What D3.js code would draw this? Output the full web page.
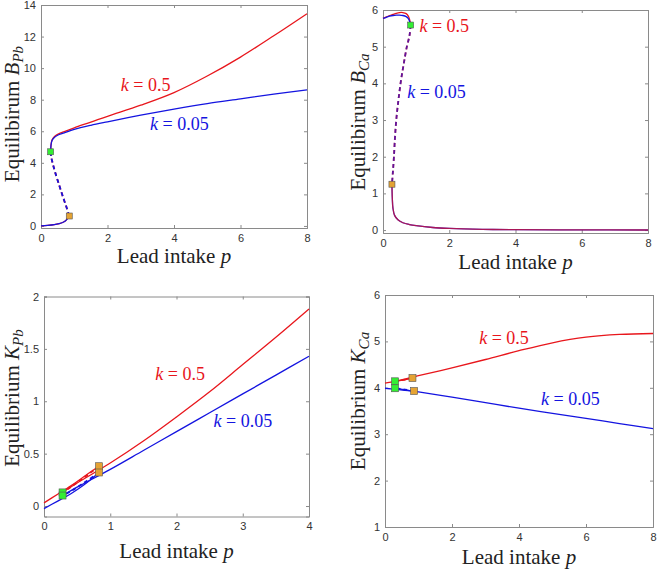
<!DOCTYPE html>
<html>
<head>
<meta charset="utf-8">
<script src="https://cdn.jsdelivr.net/npm/d3@7"></script>
<style>
  html, body { margin: 0; padding: 0; background: #fff; }
  svg { display: block; }
  .tick text { font-family: "Liberation Sans", Arial, sans-serif; font-size: 11px; fill: #333; }
  .lbl { font-family: "Liberation Serif", "Times New Roman", serif; fill: #222; }
</style>
</head>
<body>
<svg id="chart" width="658" height="570"></svg>
<script>
// ---------------- DATA ----------------
// Panel A: Equilibrium B_Pb vs lead intake p (x 0..8)
const bpbLower = [[0,0],[0.2,0.03],[0.4,0.08],[0.55,0.15],[0.65,0.22],[0.73,0.32],[0.79,0.45],[0.85,0.63]];
const bpbMid   = [[0.85,0.63],[0.78,1.1],[0.7,1.6],[0.62,2.1],[0.53,2.7],[0.44,3.3],[0.36,3.9],[0.31,4.35],[0.29,4.7]];
const bpbUpperBlue = [[0.29,4.7],[0.3,5.1],[0.33,5.4],[0.4,5.6],[0.5,5.75],[0.7,5.9],[1,6.12],[1.5,6.38],[2,6.6],[3,7.02],[4,7.4],[5,7.75],[6,8.05],[7,8.35],[8,8.62]];
const bpbUpperRed  = [[0.29,4.7],[0.3,5.1],[0.33,5.45],[0.4,5.66],[0.5,5.8],[0.7,5.98],[1,6.22],[1.5,6.58],[2,6.95],[3,7.65],[4,8.45],[5,9.5],[6,10.7],[7,12.05],[8,13.45]];
const bpbGreen  = [[0.29,4.7]];
const bpbOrange = [[0.85,0.63]];

// Panel B: Equilibrium B_Ca vs p (x 0..8)
const bcaUpperBlue = [[0,5.77],[0.1,5.8],[0.2,5.83],[0.3,5.85],[0.4,5.86],[0.5,5.86],[0.6,5.85],[0.7,5.82],[0.76,5.77],[0.8,5.7],[0.835,5.59]];
const bcaUpperRed  = [[0,5.77],[0.1,5.81],[0.2,5.85],[0.3,5.88],[0.4,5.91],[0.5,5.93],[0.6,5.93],[0.7,5.9],[0.76,5.84],[0.8,5.75],[0.835,5.59]];
const bcaMid   = [[0.835,5.59],[0.8,5.3],[0.72,5.0],[0.62,4.5],[0.53,4.0],[0.46,3.5],[0.40,3.0],[0.36,2.5],[0.33,2.0],[0.30,1.6],[0.27,1.25]];
const bcaLower = [[0.27,1.25],[0.28,0.9],[0.3,0.6],[0.35,0.4],[0.45,0.28],[0.6,0.2],[0.8,0.15],[1,0.12],[1.5,0.07],[2,0.045],[3,0.02],[4,0.012],[6,0.005],[8,0.002]];
const bcaGreen  = [[0.835,5.59]];
const bcaOrange = [[0.27,1.25]];

// Panel C: Equilibrium K_Pb vs p (x 0..4)
const kpbRedLower  = [[0,0.03],[0.2,0.11],[0.4,0.19],[0.6,0.28],[0.83,0.38]];
const kpbRedMid    = [[0.83,0.38],[0.6,0.27],[0.4,0.18],[0.28,0.13]];
const kpbRedUpper  = [[0.28,0.13],[0.5,0.22],[1,0.41],[1.5,0.62],[2,0.85],[2.5,1.09],[3,1.35],[3.5,1.61],[4,1.88]];
const kpbBlueLower = [[0,-0.025],[0.2,0.045],[0.4,0.115],[0.6,0.2],[0.83,0.32]];
const kpbBlueMid   = [[0.83,0.32],[0.6,0.22],[0.4,0.14],[0.28,0.10]];
const kpbBlueUpper = [[0.28,0.10],[0.5,0.18],[1,0.35],[1.5,0.53],[2,0.71],[2.5,0.89],[3,1.07],[3.5,1.25],[4,1.43]];
const kpbGreen  = [[0.28,0.13],[0.28,0.10]];
const kpbOrange = [[0.83,0.38],[0.83,0.32]];

// Panel D: Equilibrium K_Ca vs p (x 0..8)
const kcaRedLower  = [[0,4.1],[0.4,4.15],[0.82,4.21]];
const kcaRedMid    = [[0.82,4.21],[0.55,4.17],[0.3,4.14]];
const kcaRedUpper  = [[0.3,4.14],[1,4.26],[2,4.43],[3,4.61],[4,4.8],[5,4.97],[6,5.09],[7,5.15],[8,5.17]];
const kcaBlueLower = [[0,3.99],[0.4,3.96],[0.87,3.93]];
const kcaBlueMid   = [[0.87,3.93],[0.6,3.96],[0.3,3.99]];
const kcaBlueUpper = [[0.3,3.99],[1,3.91],[2,3.8],[3,3.68],[4,3.56],[5,3.45],[6,3.34],[7,3.23],[8,3.12]];
const kcaGreen  = [[0.3,4.14],[0.3,3.99]];
const kcaOrange = [[0.82,4.21],[0.87,3.93]];

// tick values
const xTicks8 = [0,2,4,6,8];
const xTicks4 = [0,1,2,3,4];
const yTicksBPb = [0,2,4,6,8,10,12,14];
const yTicksBCa = [0,1,2,3,4,5,6];
const yTicksKPb = [0,0.5,1,1.5,2];
const yTicksKCa = [1,2,3,4,5,6];

// ---------------- DRAW ----------------
const RED = "#e8161c", BLUE = "#1414e0";
const GREEN = "#33ee33", ORANGE = "#e5a333";
const svg = d3.select("#chart");
const fmt = d3.format("~g");

function panel(cfg) {
  const g = svg.append("g");
  const x = d3.scaleLinear().domain(cfg.xd).range([cfg.l, cfg.r]);
  const y = d3.scaleLinear().domain(cfg.yd).range([cfg.b, cfg.t]);
  const lineN = d3.line().x(d => x(d[0])).y(d => y(d[1])).curve(d3.curveCatmullRom.alpha(0.5));

  // axes (inward ticks, full box)
  const ax = [
    d3.axisBottom(x).tickValues(cfg.xt).tickSize(-3).tickPadding(6).tickFormat(fmt),
    d3.axisTop(x).tickValues(cfg.xt).tickSize(-3).tickFormat(""),
    d3.axisLeft(y).tickValues(cfg.yt).tickSize(-3).tickPadding(5).tickFormat(fmt),
    d3.axisRight(y).tickValues(cfg.yt).tickSize(-3).tickFormat("")
  ];
  const pos = [`translate(0,${cfg.b})`, `translate(0,${cfg.t})`, `translate(${cfg.l},0)`, `translate(${cfg.r},0)`];
  ax.forEach((a, i) => {
    const ga = g.append("g").attr("transform", pos[i]).call(a);
    ga.selectAll("path.domain").attr("stroke", "#8a8a8a").attr("stroke-width", 1);
    ga.selectAll(".tick line").attr("stroke", "#8a8a8a");
  });

  const gl = g.append("g");
  cfg.series.forEach(s => {
    gl.append("path").datum(s.data)
      .attr("d", lineN)
      .attr("fill", "none")
      .attr("stroke", s.color)
      .attr("stroke-width", s.dash ? 1.8 : 1.3)
      .attr("stroke-opacity", s.op || 1)
      .attr("stroke-dasharray", s.dash ? "4,3" : null);
  });
  cfg.markers.forEach(m => {
    gl.selectAll(null).data(m.data).join("rect")
      .attr("x", d => x(d[0]) - m.size / 2)
      .attr("y", d => y(d[1]) - m.size / 2)
      .attr("width", m.size).attr("height", m.size)
      .attr("fill", m.color).attr("stroke", "#555").attr("stroke-width", 0.6);
  });

  // x label
  const xl = g.append("text").attr("class", "lbl")
    .attr("x", (cfg.l + cfg.r) / 2).attr("y", cfg.xly)
    .attr("text-anchor", "middle").attr("font-size", 21);
  xl.append("tspan").text("Lead intake ");
  xl.append("tspan").attr("font-style", "italic").text("p");

  // y label
  const yl = g.append("text").attr("class", "lbl")
    .attr("transform", `translate(${cfg.ylx},${cfg.ylc}) rotate(-90)`)
    .attr("text-anchor", "middle").attr("font-size", 21);
  yl.append("tspan").text(cfg.yword + " ");
  yl.append("tspan").attr("font-style", "italic").text(cfg.ysym);
  yl.append("tspan").attr("font-style", "italic").attr("font-size", 15).attr("dy", 4).text(cfg.ysub);

  // k labels
  cfg.klabels.forEach(k => {
    const t = g.append("text").attr("class", "lbl")
      .attr("x", x(k.p)).attr("y", y(k.v))
      .attr("font-size", 18).style("fill", k.color);
    t.append("tspan").attr("font-style", "italic").text("k");
    t.append("tspan").text(" = " + k.text);
  });
}

panel({
  l: 41, r: 307, t: 5, b: 228, xd: [0, 8], yd: [-0.13, 14], xt: xTicks8, yt: yTicksBPb,
  xly: 263, ylx: 19, ylc: 114, yword: "Equilibirum", ysym: "B", ysub: "Pb",
  series: [
    { data: bpbLower, color: RED }, { data: bpbMid, color: RED, dash: true },
    { data: bpbUpperRed, color: RED },
    { data: bpbLower, color: BLUE }, { data: bpbMid, color: BLUE, dash: true },
    { data: bpbUpperBlue, color: BLUE }
  ],
  markers: [{ data: bpbGreen, color: GREEN, size: 6 }, { data: bpbOrange, color: ORANGE, size: 6 }],
  klabels: [{ p: 2.4, v: 8.55, text: "0.5", color: RED }, { p: 3.28, v: 6.08, text: "0.05", color: BLUE }]
});

panel({
  l: 383, r: 648, t: 10, b: 233, xd: [0, 8], yd: [-0.08, 6], xt: xTicks8, yt: yTicksBCa,
  xly: 269, ylx: 365, ylc: 122, yword: "Equilibirum", ysym: "B", ysub: "Ca",
  series: [
    { data: bcaUpperRed, color: RED }, { data: bcaMid, color: RED, dash: true },
    { data: bcaUpperBlue, color: BLUE },
    { data: bcaMid, color: BLUE, dash: true, op: 0.65 },
    { data: bcaLower, color: BLUE }, { data: bcaLower, color: RED, op: 0.7 }
  ],
  markers: [{ data: bcaGreen, color: GREEN, size: 6 }, { data: bcaOrange, color: ORANGE, size: 6 }],
  klabels: [{ p: 1.10, v: 5.41, text: "0.5", color: RED }, { p: 0.73, v: 3.59, text: "0.05", color: BLUE }]
});

panel({
  l: 44, r: 309, t: 296.5, b: 516.5, xd: [0, 4], yd: [-0.1, 2], xt: xTicks4, yt: yTicksKPb,
  xly: 558, ylx: 19, ylc: 398, yword: "Equilibrium", ysym: "K", ysub: "Pb",
  series: [
    { data: kpbRedLower, color: RED }, { data: kpbRedMid, color: RED, dash: true },
    { data: kpbRedUpper, color: RED },
    { data: kpbBlueLower, color: BLUE }, { data: kpbBlueMid, color: BLUE, dash: true },
    { data: kpbBlueUpper, color: BLUE }
  ],
  markers: [{ data: kpbGreen, color: GREEN, size: 7 }, { data: kpbOrange, color: ORANGE, size: 7 }],
  klabels: [{ p: 1.68, v: 1.20, text: "0.5", color: RED }, { p: 2.56, v: 0.75, text: "0.05", color: BLUE }]
});

panel({
  l: 385, r: 653, t: 295, b: 527, xd: [0, 8], yd: [1, 6], xt: xTicks8, yt: yTicksKCa,
  xly: 564, ylx: 365, ylc: 401, yword: "Equilibrium", ysym: "K", ysub: "Ca",
  series: [
    { data: kcaRedLower, color: RED }, { data: kcaRedMid, color: RED, dash: true },
    { data: kcaRedUpper, color: RED },
    { data: kcaBlueLower, color: BLUE }, { data: kcaBlueMid, color: BLUE, dash: true },
    { data: kcaBlueUpper, color: BLUE }
  ],
  markers: [{ data: kcaGreen, color: GREEN, size: 7 }, { data: kcaOrange, color: ORANGE, size: 7 }],
  klabels: [{ p: 2.81, v: 4.94, text: "0.5", color: RED }, { p: 4.66, v: 3.64, text: "0.05", color: BLUE }]
});
</script>
</body>
</html>
